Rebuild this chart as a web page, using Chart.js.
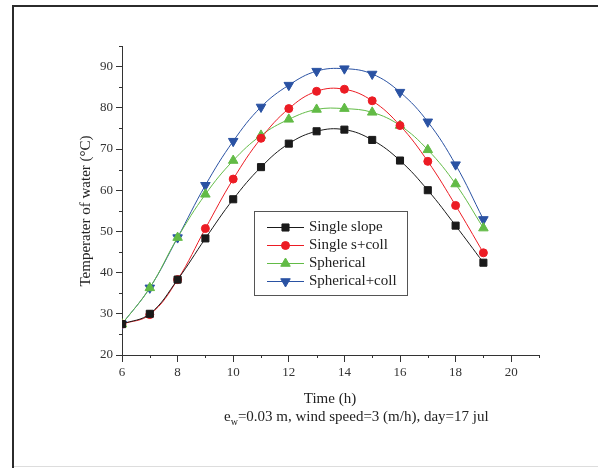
<!DOCTYPE html>
<html>
<head>
<meta charset="utf-8">
<script src="https://cdn.jsdelivr.net/npm/chart.js@4"></script>
<style>
  body { margin: 0; background: #fff; }
  #wrap { position: relative; width: 598px; height: 468px; overflow: hidden; }
  #frame { position: absolute; left: 12px; top: 5px; width: 700px; height: 700px;
           border-left: 2px solid #2b2b2b; border-top: 2px solid #2b2b2b; }
  #foot { position: absolute; left: 14px; right: 0; top: 466px; height: 1px; background: #ddd; }
  canvas { position: absolute; left: 0; top: 0; }
</style>
</head>
<body>
<div id="wrap">
  <div id="frame"></div>
  <div id="foot"></div>
  <canvas id="summary" width="598" height="468"></canvas>
</div>
<script>
// time of day (h)
const hours = [6, 7, 8, 9, 10, 11, 12, 13, 14, 15, 16, 17, 18, 19]

// water temperature (°C)
const singleSlope   = [27.5, 30.0, 38.3, 48.3, 57.8, 65.6, 71.3, 74.3, 74.7, 72.2, 67.2, 60.0, 51.4, 42.4]
const singleSColl   = [27.5, 29.8, 38.3, 50.7, 62.7, 72.6, 79.8, 84.0, 84.5, 81.7, 75.7, 67.0, 56.3, 44.8]
const spherical     = [27.5, 36.3, 48.5, 59.0, 67.2, 73.3, 77.2, 79.6, 79.8, 78.9, 75.7, 69.8, 61.5, 50.8]
const sphericalColl = [27.5, 36.3, 48.5, 61.2, 71.9, 80.2, 85.5, 88.9, 89.5, 88.2, 83.8, 76.6, 66.2, 52.9]

const seriesNames = ['Single slope', 'Single s+coll', 'Spherical', 'Spherical+coll']

const xTitle = 'Time (h)'
const yTitle = 'Temperater of water (°C)'

const serif = '"Liberation Serif", "Times New Roman", serif'

function pts(vals){
  return vals.map((v, i) => ({x: hours[i], y: v}))
}

function ds(label, vals, color, style, radius, rotation){
  return {
    label: label,
    data: pts(vals),
    borderColor: color,
    backgroundColor: color,
    borderWidth: 1,
    tension: 0.4,
    pointStyle: style,
    pointRadius: radius,
    pointRotation: rotation,
    pointBorderWidth: 1,
    pointHoverRadius: radius
  }
}

// minor ticks, axis titles, note and the boxed legend
const extras = {
  id: 'extras',
  afterDraw(chart){
    const ctx = chart.ctx
    const xs = chart.scales.x, ys = chart.scales.y
    ctx.save()
    ctx.strokeStyle = '#333'
    ctx.lineWidth = 1
    ctx.beginPath()
    for (let v = 7; v <= 21; v += 2){
      const px = Math.round(xs.getPixelForValue(v)) + 0.5
      ctx.moveTo(px, ys.bottom); ctx.lineTo(px, ys.bottom + 3)
    }
    for (let v = 25; v <= 95; v += 10){
      const py = Math.round(ys.getPixelForValue(v)) + 0.5
      ctx.moveTo(xs.left, py); ctx.lineTo(xs.left - 3, py)
    }
    ctx.stroke()

    ctx.fillStyle = '#222'
    ctx.font = '15px ' + serif
    ctx.textAlign = 'center'
    ctx.textBaseline = 'alphabetic'
    ctx.fillText(xTitle, 330, 403)

    ctx.save()
    ctx.translate(86, 211)
    ctx.rotate(-Math.PI / 2)
    ctx.textBaseline = 'middle'
    ctx.fillText(yTitle, 0, 0)
    ctx.restore()

    // e_w note
    ctx.textAlign = 'left'
    let x = 224
    ctx.fillText('e', x, 421)
    x += ctx.measureText('e').width
    ctx.font = '10px ' + serif
    ctx.fillText('w', x, 425)
    x += ctx.measureText('w').width
    ctx.font = '15px ' + serif
    ctx.fillText('=0.03 m, wind speed=3 (m/h), day=17 jul', x, 421)

    // legend
    ctx.strokeStyle = '#555'
    ctx.strokeRect(254.5, 211.5, 153, 84)
    ctx.textBaseline = 'middle'
    chart.data.datasets.forEach((d, i) => {
      const y = 227 + i * 18
      ctx.strokeStyle = d.borderColor
      ctx.lineWidth = 1
      ctx.beginPath()
      ctx.moveTo(267, y + 0.5); ctx.lineTo(304, y + 0.5)
      ctx.stroke()
      ctx.fillStyle = d.backgroundColor
      Chart.helpers.drawPoint(ctx, {
        pointStyle: d.pointStyle, radius: d.pointRadius,
        rotation: d.pointRotation, borderWidth: 1
      }, 285.5, y + 0.5)
      ctx.fillStyle = '#222'
      ctx.fillText(d.label, 309, y)
    })
    ctx.restore()
  }
}

const summary = document.getElementById('summary')

let lineChart = new Chart(summary, {
  type: 'line',
  data: {
    datasets: [
      ds(seriesNames[0], singleSlope,   '#1a1a1a', 'rect',     5,   0),
      ds(seriesNames[1], singleSColl,   '#ec1c24', 'circle',   4,   0),
      ds(seriesNames[2], spherical,     '#62bb46', 'triangle', 5.5, 0),
      ds(seriesNames[3], sphericalColl, '#2a52a3', 'triangle', 5.5, 180)
    ]
  },
  options: {
    responsive: false,
    animation: false,
    layout: { padding: { top: 46, right: 59, left: 0, bottom: 0 } },
    plugins: { legend: { display: false }, tooltip: { enabled: false } },
    scales: {
      x: {
        type: 'linear',
        min: 6, max: 21,
        afterFit(scale){ scale.height = 113 },
        border: { color: '#333', width: 1 },
        grid: {
          drawOnChartArea: false, tickLength: 7,
          tickColor: c => (c.tick && c.tick.value % 2 === 0) ? '#333' : 'rgba(0,0,0,0)'
        },
        ticks: {
          stepSize: 1, padding: 3, color: '#333', maxRotation: 0, autoSkip: false,
          font: { family: serif, size: 13 },
          callback: v => (v % 2 === 0 && v <= 20) ? v : ''
        }
      },
      y: {
        min: 20, max: 95,
        afterFit(scale){ scale.width = 122 },
        border: { color: '#333', width: 1 },
        grid: {
          drawOnChartArea: false, tickLength: 6,
          tickColor: c => (c.tick && c.tick.value % 10 === 0) ? '#333' : 'rgba(0,0,0,0)'
        },
        ticks: {
          stepSize: 5, padding: 3, color: '#333', autoSkip: false,
          font: { family: serif, size: 13 },
          callback: v => (v % 10 === 0) ? v : ''
        }
      }
    }
  },
  plugins: [extras]
})
</script>
</body>
</html>
